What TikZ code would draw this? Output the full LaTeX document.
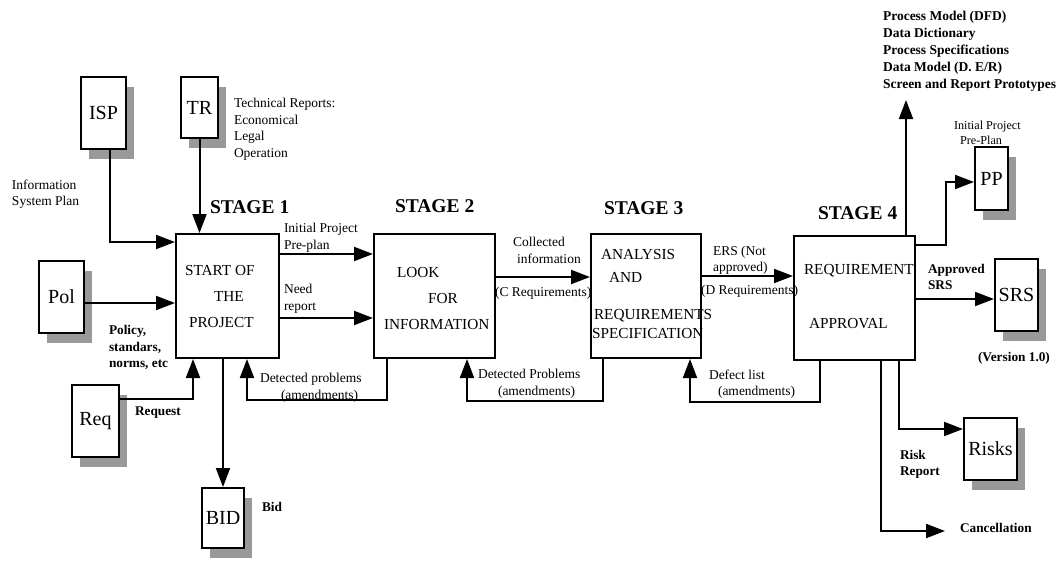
\documentclass[tikz,border=0pt]{standalone}
\usepackage{fontspec}
\setmainfont{Liberation Serif}
\usetikzlibrary{arrows.meta,shadows}
\definecolor{shadowgray}{gray}{0.6}
\begin{document}
\begin{tikzpicture}[x=1pt,y=-1pt,line width=2pt,
  stagebox/.style={draw,inner sep=0pt,minimum height=124pt},
  docbox/.style={draw,fill=white,inner sep=0pt,font=\fontsize{20}{22}\selectfont,
     drop shadow={shadow xshift=8pt,shadow yshift=-10pt,fill=shadowgray,opacity=1}},
  arr/.style={-{Triangle[length=19pt,width=14pt]}},
  lab/.style={inner sep=0pt,align=left,font=\fontsize{13.5}{16.5}\selectfont},
  blab/.style={inner sep=0pt,align=left,font=\bfseries\fontsize{13.3}{16.5}\selectfont},
  stg/.style={inner sep=0pt,anchor=west,font=\bfseries\fontsize{19.5}{22}\selectfont},
  boxtext/.style={inner sep=0pt,align=left,anchor=north west}
]
\fill[white] (0,0) rectangle (1063,563);
\useasboundingbox (0,0) rectangle (1063,563);

% stage boxes
\node[stagebox,minimum width=103pt] (s1) at (227.5,296) {};
\node[stagebox,minimum width=121pt] (s2) at (434.5,296) {};
\node[stagebox,minimum width=110pt] (s3) at (646,296) {};
\node[stagebox,minimum width=121pt] (s4) at (854.5,298) {};

% texts inside stage boxes
\node[boxtext,font=\fontsize{15.3}{26}\selectfont] (s1t) at (184,264)
  {START OF\\\hspace*{29pt}THE\\\hspace*{4pt}PROJECT};
\node[boxtext,font=\fontsize{15.3}{26}\selectfont] (s2t) at (383,266)
  {\hspace*{13pt}LOOK\\\hspace*{44pt}FOR\\INFORMATION};
\node[boxtext,font=\fontsize{15.3}{19}\selectfont] (s3t) at (591,248)
  {\hspace*{9pt}ANALYSIS\\[4pt]\hspace*{17pt}AND\\[18pt]\hspace*{2pt}REQUIREMENTS\\SPECIFICATION};
\node[boxtext,font=\fontsize{15.3}{19}\selectfont] (s4t) at (803,263)
  {REQUIREMENT\\[35pt]\hspace*{5pt}APPROVAL};

% stage titles
\node[stg] (st1) at (209,207) {STAGE 1};
\node[stg] (st2) at (394,206) {STAGE 2};
\node[stg] (st3) at (603,208) {STAGE 3};
\node[stg] (st4) at (817,213) {STAGE 4};

% document boxes
\node[docbox,minimum width=45pt,minimum height=72pt] (isp) at (103.5,113) {ISP};
\node[docbox,minimum width=37pt,minimum height=61pt] (tr) at (199.5,107.5) {TR};
\node[docbox,minimum width=45pt,minimum height=72pt] (pol) at (61.5,297) {Pol};
\node[docbox,minimum width=47pt,minimum height=72pt] (req) at (95.5,421) {Req};
\node[docbox,minimum width=42pt,minimum height=60pt] (bid) at (223,518) {BID};
\node[docbox,minimum width=33pt,minimum height=63pt] (pp) at (991.5,178.5) {PP};
\node[docbox,minimum width=43pt,minimum height=72pt] (srs) at (1016.5,295) {SRS};
\node[docbox,minimum width=53pt,minimum height=62pt] (risks) at (990.5,449) {Risks};

% labels
\node[lab,anchor=north west] (ltr) at (233,97.5) {Technical Reports:\\Economical\\Legal\\Operation};
\node[lab,anchor=north west] (lisp) at (11,178.5) {Information\\System Plan};
\node[lab,anchor=north west] (lipp) at (283,222.5) {Initial Project\\Pre-plan};
\node[lab,anchor=north west] (lneed) at (283,283.5) {Need\\report};
\node[blab,anchor=north west] (lpol) at (108,324.5) {Policy,\\standars,\\norms, etc};
\node[blab,anchor=west] (lreq) at (134,413) {Request};
\node[lab,anchor=north west] (ldp1) at (259,372.5) {Detected problems\\\hspace*{21pt}(amendments)};
\node[blab,anchor=west] (lbid) at (261,507) {Bid};
\node[lab,anchor=north west] (lcol) at (512,236.5) {Collected\\\hspace*{4pt}information};
\node[lab,anchor=west] (lcr) at (494,293) {(C Requirements)};
\node[lab,anchor=north west] (ldp2) at (477,368.5) {Detected Problems\\\hspace*{20pt}(amendments)};
\node[lab,anchor=north west] (lers) at (712,245) {ERS (Not\\approved)};
\node[lab,anchor=west] (ldr) at (700,291) {(D Requirements)};
\node[lab,anchor=north west] (ldef) at (708,368.5) {Defect list\\\hspace*{9pt}(amendments)};
\node[blab,anchor=north west] (lapp) at (927,263) {Approved\\SRS};
\node[blab,anchor=west] (lver) at (977,358) {(Version 1.0)};
\node[blab,anchor=north west] (lrisk) at (899,449) {Risk\\Report};
\node[blab,anchor=west] (canc) at (959,528) {Cancellation};
\node[inner sep=0pt,align=left,anchor=north west,font=\fontsize{12.2}{15}\selectfont] (lpp) at (953,120)
  {Initial Project\\\hspace*{6pt}Pre-Plan};
\node[inner sep=0pt,align=left,anchor=north west,font=\bfseries\fontsize{13.5}{17}\selectfont] (lout) at (882,10)
  {Process Model (DFD)\\Data Dictionary\\Process Specifications\\Data Model (D. E/R)\\Screen and Report Prototypes};

% connectors
\draw[arr] (isp.south -| 110,0) |- (s1.west |- 0,242);
\draw[arr] (tr.south) -- (tr.south |- s1.north);
\draw[arr] (pol.east |- 0,303) -- (s1.west |- 0,303);
\draw[arr] (req.east |- 0,399) -| (s1.south -| 193,0);
\draw[arr] (bid.north |- s1.south) -- (bid.north);
\draw[arr] (s1.east |- 0,254) -- (s2.west |- 0,254);
\draw[arr] (s1.east |- 0,318) -- (s2.west |- 0,318);
\draw[arr] (s2.south -| 387,0) -- (387,400) -| (s1.south -| 247,0);
\draw[arr] (s2.east |- 0,277) -- (s3.west |- 0,277);
\draw[arr] (s3.south -| 603,0) -- (603,401) -| (s2.south -| 467,0);
\draw[arr] (s3.east |- 0,276) -- (s4.west |- 0,276);
\draw[arr] (s4.south -| 820,0) -- (820,402) -| (s3.south -| 690,0);
\coordinate (outtop) at (906,100);
\draw[arr] (s4.north -| outtop) -- (outtop);
\draw[arr] (s4.east |- 0,245) -- (946,245) |- (pp.west |- 0,182);
\draw[arr] (s4.east |- 0,299) -- (srs.west |- 0,299);
\draw[arr] (s4.south -| 899,0) |- (risks.west |- 0,429);
\coordinate (cancend) at (945,531);
\draw[arr] (s4.south -| 881,0) |- (cancend);
\end{tikzpicture}
\end{document}
